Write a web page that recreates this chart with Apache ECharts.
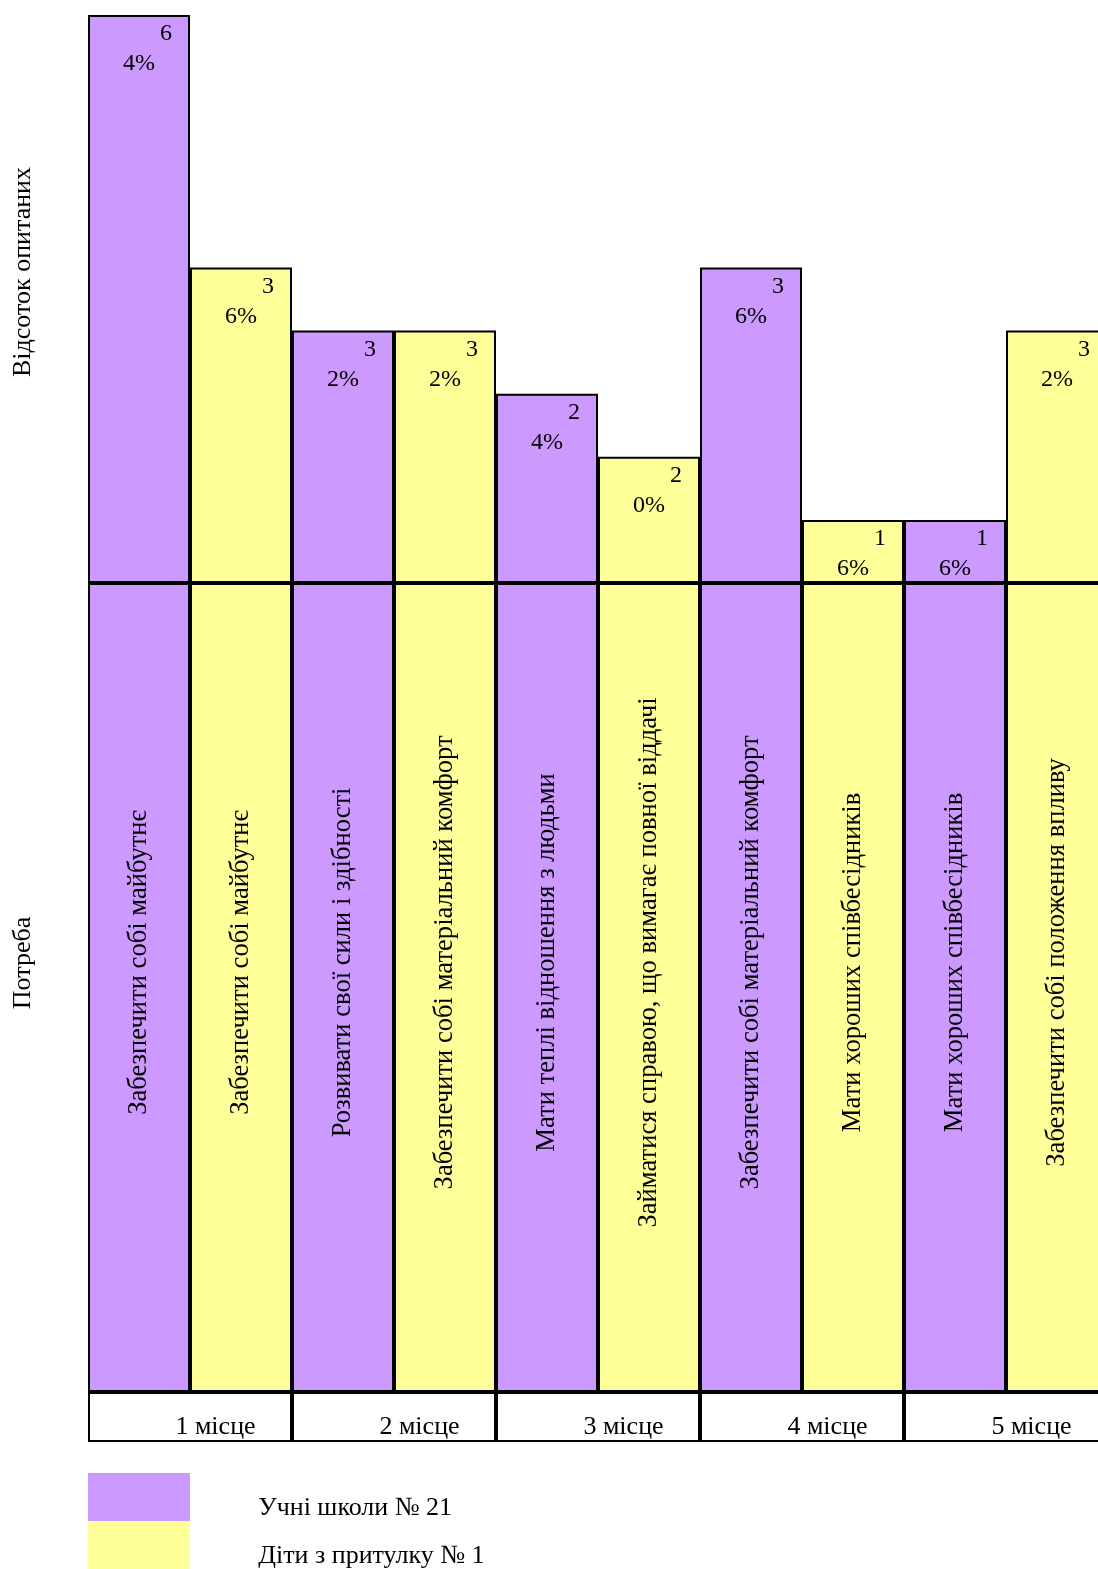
<!DOCTYPE html>
<html><head><meta charset="utf-8">
<script src="https://cdn.jsdelivr.net/npm/echarts@6/dist/echarts.min.js"></script>
<style>html,body{margin:0;padding:0;background:#fff;overflow:hidden;width:1098px;height:1569px}#c{width:1108px;height:1569px}</style>
</head><body><div id="c"></div>
<script>
// Data
const needs = ['Забезпечити собі майбутнє','Забезпечити собі майбутнє','Розвивати свої сили і здібності','Забезпечити собі матеріальний комфорт','Мати теплі відношення з людьми','Займатися справою, що вимагає повної віддачі','Забезпечити собі матеріальний комфорт','Мати хороших співбесідників','Мати хороших співбесідників','Забезпечити собі положення впливу'];
const groups = ['Учні школи № 21','Діти з притулку № 1'];
const columnGroup = [0,1,0,1,0,1,0,1,0,1];
const percents = [64,36,32,32,24,20,36,16,16,32];
// bar heights as drawn in the picture (in equal row steps)
const barHeights = [9,5,4,4,3,2,5,1,1,4];
const places = ['1 місце','2 місце','3 місце','4 місце','5 місце'];
const groupColors = ['#CC99FF','#FFFF99'];

const FONT = 'Liberation Serif';
const chart = echarts.init(document.getElementById('c'));
const cols = needs.map((_, i) => String(i));

const series = [];
groups.forEach((g, gi) => {
  series.push({
    name: g, type: 'bar', xAxisIndex: 0, yAxisIndex: 0, stack: 'top',
    barWidth: '100%', barCategoryGap: '0%',
    itemStyle: {color: groupColors[gi], borderColor: '#000', borderWidth: 2},
    data: barHeights.map((h, i) => columnGroup[i] === gi ? h : '-'),
    label: {
      show: true, position: 'insideTop', distance: 4,
      width: 66,
      formatter: p => { const s = String(percents[p.dataIndex]); return '{a|' + s[0] + '}\n{b|' + s.slice(1) + '%}'; },
      rich: {
        a: {align: 'right', fontFamily: FONT, fontSize: 24, color: '#000', lineHeight: 30},
        b: {align: 'center', fontFamily: FONT, fontSize: 24, color: '#000', lineHeight: 30}
      }
    }
  });
  series.push({
    name: g, type: 'bar', xAxisIndex: 1, yAxisIndex: 1, stack: 'mid',
    barWidth: '100%', barCategoryGap: '0%',
    itemStyle: {color: groupColors[gi], borderColor: '#000', borderWidth: 2},
    data: needs.map((n, i) => columnGroup[i] === gi ? 1 : '-'),
    label: {
      show: true, position: ['50%', '46.9%'], rotate: 90, align: 'center', verticalAlign: 'middle',
      formatter: p => needs[p.dataIndex],
      fontFamily: FONT, fontSize: 26.6, color: '#000'
    }
  });
});
series.push({
  name: 'places', type: 'bar', xAxisIndex: 2, yAxisIndex: 2,
  barWidth: '100%', barCategoryGap: '0%',
  itemStyle: {color: '#fff', borderColor: '#000', borderWidth: 2},
  data: places.map(() => 1),
  label: {show: true, position: ['62.5%', '70%'], align: 'center', verticalAlign: 'middle',
    formatter: p => places[p.dataIndex], fontFamily: FONT, fontSize: 26, color: '#000'}
});

const hiddenX = (idx, data) => ({type: 'category', gridIndex: idx, data: data, show: false, boundaryGap: true});
const yAx = (idx, max, name, pad) => ({
  type: 'value', gridIndex: idx, min: 0, max: max,
  axisLine: {show: false}, axisTick: {show: false}, axisLabel: {show: false}, splitLine: {show: false},
  name: name, nameLocation: 'middle', nameRotate: 90, nameGap: 52,
  nameTextStyle: {fontFamily: FONT, fontSize: 26, color: '#000', padding: [0, 0, 0, pad]}
});

chart.setOption({
  animation: false,
  backgroundColor: '#fff',
  grid: [
    {left: 88, top: 15, width: 1020, height: 568},
    {left: 88, top: 583, width: 1020, height: 809},
    {left: 88, top: 1392, width: 1020, height: 50}
  ],
  xAxis: [hiddenX(0, cols), hiddenX(1, cols), hiddenX(2, places)],
  yAxis: [yAx(0, 9, 'Відсоток опитаних', 54), yAx(1, 1, 'Потреба', 49), yAx(2, 1, '', 0)],
  legend: {
    data: groups, orient: 'vertical', left: 88, top: 1473, padding: 0,
    itemWidth: 102, itemHeight: 48, itemGap: 0, icon: 'rect',
    itemStyle: {borderWidth: 0},
    selectedMode: false,
    formatter: name => '{s| }{t|' + name + '}',
    textStyle: {
      fontFamily: FONT, fontSize: 26, color: '#000', padding: [0, 0, 0, 63],
      rich: {
        s: {fontSize: 1, lineHeight: 48},
        t: {fontFamily: FONT, fontSize: 26, color: '#000', lineHeight: 28, verticalAlign: 'bottom'}
      }
    }
  },
  series: series
});
</script></body></html>
